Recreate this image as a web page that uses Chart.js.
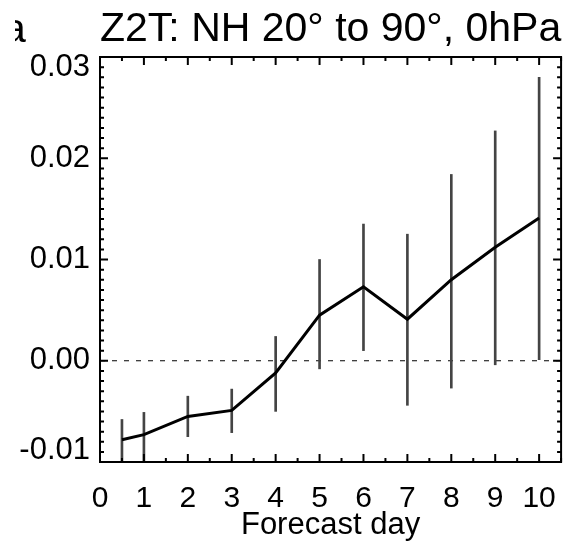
<!DOCTYPE html>
<html>
<head>
<meta charset="utf-8">
<script src="https://cdn.jsdelivr.net/npm/chart.js@4/dist/chart.umd.min.js"></script>
<style>
  html, body { margin: 0; padding: 0; background: #fff; }
  #wrap { width: 567px; height: 544px; }
</style>
</head>
<body>
<div id="wrap"><canvas id="z2tChart" width="567" height="544"></canvas></div>
<script>
// Forecast days and the Z2T mean with its uncertainty range
const days = [0.5, 1, 2, 3, 4, 5, 6, 7, 8, 9, 10];
const meanValues = [-0.0078, -0.0073, -0.0055, -0.0049, -0.0012, 0.0045, 0.0073, 0.0041, 0.0080, 0.0112, 0.0141];
const upperValues = [-0.0058, -0.0051, -0.0035, -0.0028, 0.0024, 0.0100, 0.0135, 0.0125, 0.0184, 0.0227, 0.0280];
const lowerValues = [-0.0105, -0.0105, -0.0075, -0.0071, -0.0050, -0.0008, 0.0010, -0.0044, -0.0027, -0.0004, 0.0001];

const xTicks = [0, 1, 2, 3, 4, 5, 6, 7, 8, 9, 10];
const yTicks = [-0.01, 0.00, 0.01, 0.02, 0.03];
const yTickLabels = ["-0.01", "0.00", "0.01", "0.02", "0.03"];

const titleText = "Z2T: NH 20\u00b0 to 90\u00b0, 0hPa";
const panelLetter = "a";
const xTitle = "Forecast day";

const FONT = "'Liberation Sans', Arial, Helvetica, sans-serif";

// frame, inward ticks, zero line, y labels and title
const framePlugin = {
    id: 'framePlugin',
    beforeDatasetsDraw(chart) {
        const { ctx, chartArea, scales } = chart;
        const y0 = scales.y.getPixelForValue(0);
        ctx.save();
        ctx.strokeStyle = '#000';
        ctx.lineWidth = 1;
        ctx.setLineDash([5, 7]);
        ctx.beginPath();
        ctx.moveTo(chartArea.left, y0);
        ctx.lineTo(chartArea.right, y0);
        ctx.stroke();
        ctx.restore();
    },
    afterDraw(chart) {
        const { ctx, chartArea, scales } = chart;
        const { left, right, top, bottom } = chartArea;
        ctx.save();
        ctx.strokeStyle = '#000';
        ctx.lineWidth = 2;
        ctx.beginPath();
        // x ticks, every half day
        for (let k = 0; k <= 21; k++) {
            const px = scales.x.getPixelForValue(k / 2);
            const len = k % 2 === 0 ? 8 : 4;
            ctx.moveTo(px, bottom);
            ctx.lineTo(px, bottom - len);
            ctx.moveTo(px, top);
            ctx.lineTo(px, top + len);
        }
        // y ticks, every 0.001
        for (let k = -10; k <= 30; k++) {
            const py = scales.y.getPixelForValue(k / 1000);
            const len = k % 10 === 0 ? 8 : 4;
            ctx.moveTo(left, py);
            ctx.lineTo(left + len, py);
            ctx.moveTo(right, py);
            ctx.lineTo(right - len, py);
        }
        ctx.stroke();
        ctx.strokeRect(left, top, right - left, bottom - top);

        // y tick labels, end labels kept inside the axis
        ctx.fillStyle = '#000';
        ctx.font = '31px ' + FONT;
        ctx.textAlign = 'right';
        ctx.textBaseline = 'middle';
        yTicks.forEach((v, i) => {
            let py = scales.y.getPixelForValue(v);
            py = Math.min(Math.max(py, top + 10), bottom - 12);
            ctx.fillText(yTickLabels[i], left - 10, py);
        });

        // title
        ctx.font = '41px ' + FONT;
        ctx.textAlign = 'left';
        ctx.textBaseline = 'alphabetic';
        ctx.fillText(titleText, left, 41);

        // cut-off panel letter
        ctx.beginPath();
        ctx.rect(15, 0, 40, 56);
        ctx.clip();
        ctx.fillText(panelLetter, 3, 42);
        ctx.restore();
    }
};

const ctx = document.getElementById('z2tChart').getContext('2d');
const z2tChart = new Chart(ctx, {
    type: 'line',
    data: {
        datasets: [{
            type: 'line',
            label: 'Z2T',
            data: days.map((d, i) => ({ x: d, y: meanValues[i] })),
            borderColor: '#000',
            borderWidth: 3,
            pointRadius: 0,
            tension: 0,
            order: 0
        }, {
            type: 'bar',
            label: 'range',
            data: days.map((d, i) => ({ x: d, y: [lowerValues[i], upperValues[i]] })),
            backgroundColor: '#444',
            barThickness: 2,
            borderWidth: 0,
            order: 1
        }]
    },
    options: {
        responsive: false,
        animation: false,
        devicePixelRatio: 1,
        layout: { padding: { top: 57, right: 4, left: 0, bottom: 0 } },
        plugins: {
            legend: { display: false },
            tooltip: { enabled: false },
            title: { display: false }
        },
        scales: {
            x: {
                type: 'linear',
                min: 0,
                max: 10.5,
                offset: false,
                grid: { display: false },
                border: { display: false },
                afterBuildTicks: (scale) => { scale.ticks = xTicks.map(v => ({ value: v })); },
                afterFit: (scale) => { scale.height = 82; },
                ticks: {
                    color: '#000',
                    font: { family: FONT, size: 30 },
                    padding: 11,
                    maxRotation: 0,
                    autoSkip: false
                },
                title: {
                    display: true,
                    text: xTitle,
                    color: '#000',
                    font: { family: FONT, size: 31 },
                    padding: { top: 0, bottom: 0 }
                }
            },
            y: {
                type: 'linear',
                min: -0.01,
                max: 0.03,
                grid: { display: false },
                border: { display: false },
                afterBuildTicks: (scale) => { scale.ticks = yTicks.map(v => ({ value: v })); },
                afterFit: (scale) => { scale.width = 100; },
                ticks: { display: false }
            }
        }
    },
    plugins: [framePlugin]
});
</script>
</body>
</html>
